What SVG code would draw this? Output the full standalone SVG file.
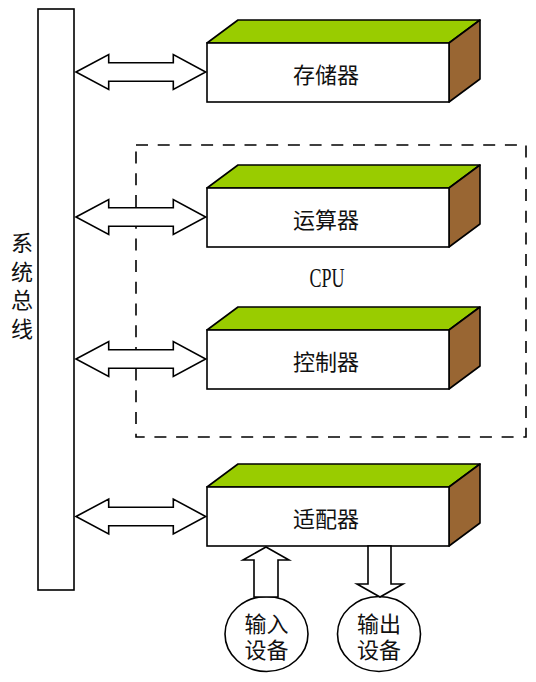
<svg xmlns="http://www.w3.org/2000/svg" width="536" height="682" viewBox="0 0 536 682">
<style>
.ln{fill:#fff;stroke:#000;stroke-width:1.6;stroke-linejoin:miter}
.top{fill:#99CC00;stroke:#000;stroke-width:1.6;stroke-linejoin:round}
.side{fill:#996633;stroke:#000;stroke-width:1.6;stroke-linejoin:round}
.t{font-family:"Noto Sans CJK SC",sans-serif;font-size:22px;fill:#111;text-anchor:middle;dominant-baseline:central}
.dash{fill:none;stroke:#000;stroke-width:1.6;stroke-dasharray:12,9.7}
</style>
<defs>
<polygon id="dbl" class="ln" points="76,0 108.7,-17.5 108.7,-9.2 173.3,-9.2 173.3,-17.5 205.7,0 173.3,17.5 173.3,9.2 108.7,9.2 108.7,17.5"/>
<g id="box">
<polygon class="top" points="207,0 238,-23 480,-23 449,0"/>
<polygon class="side" points="449,0 480,-23 480,36 449,59"/>
<rect class="ln" x="207" y="0" width="242" height="59"/>
</g>
</defs>
<rect x="0" y="0" width="536" height="682" fill="#fff"/>
<g id="cpu">
<rect class="dash" x="136" y="145" width="390" height="292"/>
<text x="327" y="277" font-family="Liberation Serif,serif" font-size="28" text-anchor="middle" dominant-baseline="central" textLength="35" lengthAdjust="spacingAndGlyphs" fill="#111">CPU</text>
</g>
<g id="bus">
<rect class="ln" x="38" y="9" width="36" height="581"/>
<text x="22" y="232" font-family="Noto Sans CJK SC,sans-serif" font-size="22" fill="#111" writing-mode="tb" letter-spacing="6.5">系统总线</text>
</g>
<g id="memory" transform="translate(0,43)">
<use href="#box"/>
<text class="t" x="326" y="29.5">存储器</text>
</g>
<g id="alu" transform="translate(0,188)">
<use href="#box"/>
<text class="t" x="326" y="29.5">运算器</text>
</g>
<g id="controller" transform="translate(0,330)">
<use href="#box"/>
<text class="t" x="326" y="29.5">控制器</text>
</g>
<g id="adapter" transform="translate(0,487)">
<use href="#box"/>
<text class="t" x="326" y="30">适配器</text>
</g>
<g id="input">
<ellipse class="ln" cx="266.5" cy="634" rx="41.5" ry="37.5"/>
<text class="t" x="266.5" y="622"><tspan x="266.5" y="622">输入</tspan><tspan x="266.5" y="648">设备</tspan></text>
</g>
<g id="output">
<ellipse class="ln" cx="379" cy="634" rx="41.5" ry="37.5"/>
<text class="t" x="379" y="622"><tspan x="379" y="622">输出</tspan><tspan x="379" y="648">设备</tspan></text>
</g>
<g id="connectors">
<use href="#dbl" transform="translate(0,72)"/>
<use href="#dbl" transform="translate(0,217)"/>
<use href="#dbl" transform="translate(0,359)"/>
<use href="#dbl" transform="translate(0,516.5)"/>
<polygon class="ln" points="266,547 289,560 278,560 278,597 254,597 254,560 243,560"/>
<polygon class="ln" points="368,546 391,546 391,584 403,584 380,597 357,584 368,584"/>
</g>
</svg>
